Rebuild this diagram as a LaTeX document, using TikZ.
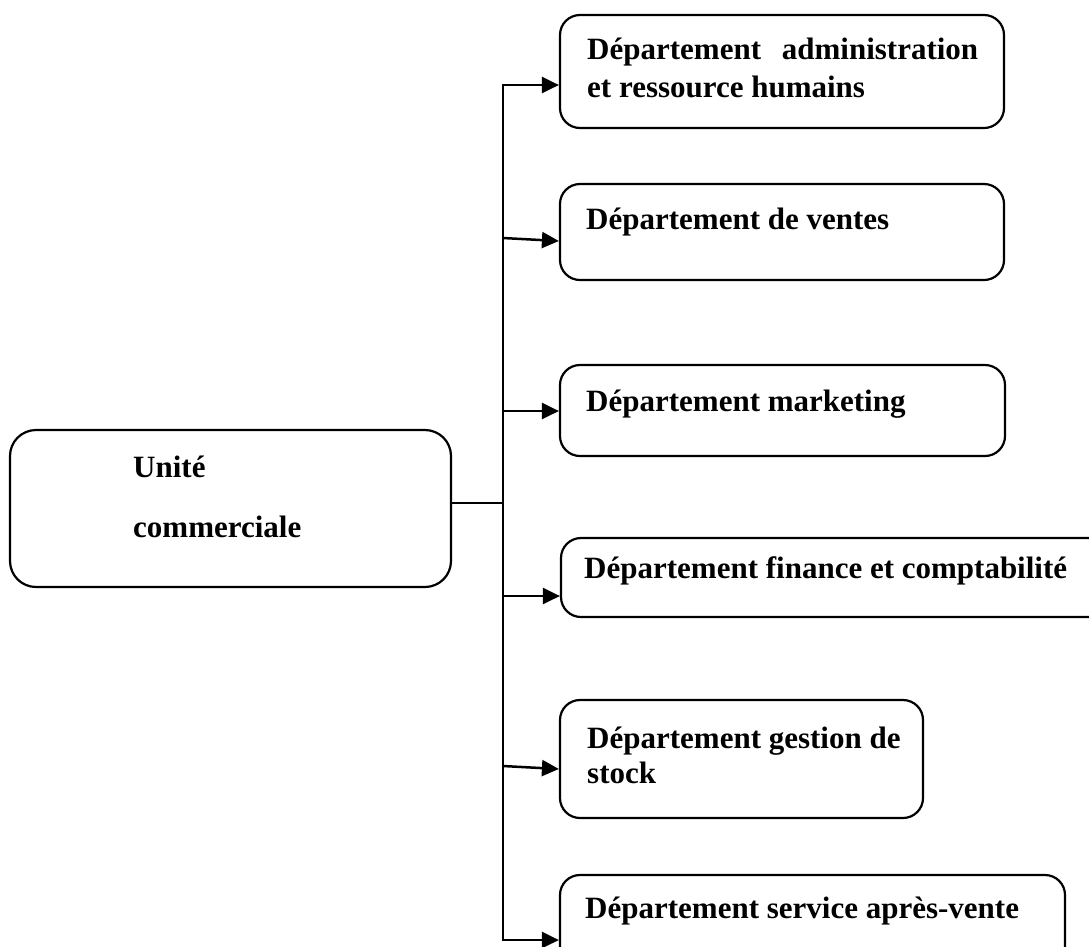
\documentclass[tikz,border=0pt]{standalone}
\usepackage{fontspec}
\setmainfont{Liberation Serif}
\usetikzlibrary{arrows.meta}

\begin{document}
\begin{tikzpicture}[x=1pt,y=-1pt,
  box/.style={draw, line width=2.2pt, rounded corners=20pt, inner sep=0pt},
  txt/.style={anchor=base west, inner sep=0pt, font=\fontsize{31}{38}\selectfont\bfseries},
  tip/.tip={Triangle[length=17pt,width=16pt]},
  conn/.style={line width=2.5pt},
  arr/.style={conn, -tip}]

\useasboundingbox (0,0) rectangle (1089,946);
\clip (0,0) rectangle (1089,946);

% boxes
\node[box, minimum width=441pt, minimum height=157pt, rounded corners=26pt] (unit) at (230.5,508.5) {};
\node[box, minimum width=444pt, minimum height=113pt] (admin) at (782,71.5) {};
\node[box, minimum width=444pt, minimum height=96pt] (ventes) at (782,232) {};
\node[box, minimum width=445pt, minimum height=91pt] (mkt) at (782.5,410.5) {};
\node[box, minimum width=549pt, minimum height=79pt] (fin) at (835.5,577.5) {};
\node[box, minimum width=363pt, minimum height=118pt] (stock) at (741.5,759) {};
\node[box, minimum width=505pt, minimum height=105pt] (sav) at (812.5,927.5) {};

% labels
\node[txt] (tunit1) at (133,477) {Unité};
\node[txt] (tunit2) at (133,537) {commerciale};
\node[txt] (tadmin1) at (587,59) {\makebox[391pt][s]{Département administration}};
\node[txt] (tadmin2) at (587,97) {et ressource humains};
\node[txt] (tventes) at (586,229) {Département de ventes};
\node[txt] (tmkt) at (586,411) {Département marketing};
\node[txt] (tfin) at (584,578) {Département finance et comptabilité};
\node[txt] (tstock1) at (587,748) {Département gestion de};
\node[txt] (tstock2) at (587,783) {stock};
\node[txt] (tsav) at (585,918) {Département service après-vente};

% trunk junctions
\coordinate (jtop) at (503,85);
\coordinate (jmid) at (503,503);
\coordinate (jbot) at (503,940);
\coordinate (j2) at (503,238);
\coordinate (j3) at (503,411);
\coordinate (j4) at (503,596);
\coordinate (j5) at (503,766);

% connectors
\draw[conn] (unit.east |- jmid) -- (jmid);
\draw[conn, tip-tip]
  (admin.west |- jtop) -- (jtop) -- (jbot) -- (sav.west |- jbot);
\draw[arr] (j2) -- ([yshift=-3pt]ventes.west |- j2);
\draw[arr] (j3) -- (mkt.west |- j3);
\draw[arr] (j4) -- (fin.west |- j4);
\draw[arr] (j5) -- ([yshift=-3pt]stock.west |- j5);

\end{tikzpicture}
\end{document}
